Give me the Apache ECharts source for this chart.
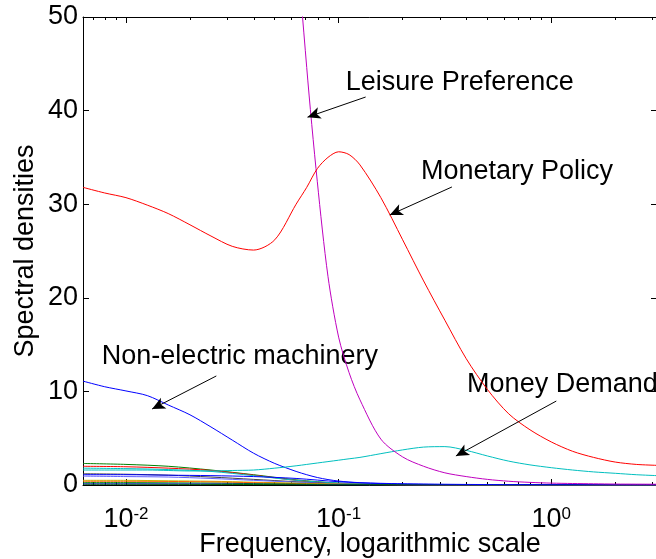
<!DOCTYPE html>
<html>
<head>
<meta charset="utf-8">
<script src="https://cdn.jsdelivr.net/npm/echarts@6/dist/echarts.min.js"></script>
<style>
  html, body { margin: 0; padding: 0; background: #fff; }
  #chart { width: 656px; height: 559px; }
</style>
</head>
<body>
<div id="chart"></div>
<script>
// Frequency grid (radians), log axis from 2*pi/1000 to pi
const freq = [0.00628, 0.00794, 0.01, 0.0126, 0.0158, 0.02, 0.0251, 0.0316, 0.0398, 0.0501,
  0.0631, 0.0708, 0.0794, 0.0891, 0.1, 0.112, 0.126, 0.158, 0.2, 0.251, 0.316, 0.398,
  0.501, 0.631, 0.794, 1.0, 1.26, 1.58, 2.0, 2.51, 3.1416];

const monetaryPolicy = [31.8, 31.2, 30.7, 29.9, 29.0, 27.8, 26.6, 25.5, 25.1, 26.2,
  30.0, 31.8, 33.8, 35.0, 35.6, 35.3, 34.2, 30.7, 26.2, 21.8, 17.6, 13.5,
  10.2, 7.6, 5.9, 4.6, 3.6, 2.95, 2.45, 2.2, 2.1];

const leisurePreference = [null, null, null, null, null, null, null, null, null, 120,
  60, 44.6, 32.4, 22.3, 15.8, 12.0, 9.1, 4.9, 3.0, 2.0, 1.3, 0.9,
  0.6, 0.4, 0.28, 0.2, 0.16, 0.13, 0.1, 0.09, 0.08];

const moneyDemand = [1.6, 1.6, 1.6, 1.6, 1.55, 1.5, 1.5, 1.55, 1.6, 1.8,
  2.05, 2.2, 2.35, 2.5, 2.65, 2.8, 2.95, 3.35, 3.75, 4.05, 4.1, 3.7,
  3.1, 2.55, 2.15, 1.85, 1.6, 1.4, 1.25, 1.1, 1.0];

const nonElectricMachinery = [11.1, 10.5, 10.05, 9.55, 8.55, 7.5, 6.2, 4.8, 3.4, 2.3,
  1.45, 1.1, 0.8, 0.58, 0.42, 0.32, 0.25, 0.18, 0.13, 0.1, 0.08, 0.06,
  0.05, 0.04, 0.04, 0.03, 0.03, 0.03, 0.02, 0.02, 0.02];

// Coarser grid for the many small sectoral spectra near zero
const freqCoarse = [0.00628, 0.01, 0.0158, 0.0251, 0.0398, 0.0631, 0.1, 0.158, 0.316, 1.0, 3.1416];
const smallGreen   = [2.3, 2.2, 2.0, 1.6, 1.1, 0.55, 0.2, 0.08, 0.03, 0.01, 0.01];
const smallRed     = [2.0, 1.95, 1.8, 1.55, 1.05, 0.5, 0.15, 0.05, 0.02, 0.01, 0.01];
const smallCyan    = [1.8, 1.75, 1.65, 1.45, 1.0, 0.5, 0.2, 0.07, 0.02, 0.01, 0.01];
const smallGray    = [1.2, 1.15, 1.05, 0.85, 0.6, 0.35, 0.12, 0.05, 0.02, 0.01, 0.01];
const smallBlue1   = [1.1, 1.1, 1.05, 1.0, 0.9, 0.7, 0.35, 0.15, 0.05, 0.02, 0.01];
const smallBlue2   = [0.95, 0.9, 0.85, 0.7, 0.5, 0.3, 0.12, 0.05, 0.02, 0.01, 0.01];
const smallYellow  = [0.5, 0.5, 0.45, 0.4, 0.3, 0.2, 0.1, 0.05, 0.02, 0.01, 0.01];
const smallRed2    = [0.4, 0.4, 0.38, 0.33, 0.25, 0.15, 0.07, 0.03, 0.02, 0.01, 0.01];
const smallGreen2  = [0.25, 0.25, 0.23, 0.2, 0.15, 0.1, 0.05, 0.03, 0.02, 0.01, 0.01];
const smallBlue3   = [0.12, 0.12, 0.11, 0.1, 0.08, 0.05, 0.03, 0.02, 0.01, 0.01, 0.01];
const smallGreen3  = [0.08, 0.08, 0.07, 0.06, 0.05, 0.04, 0.03, 0.03, 0.03, 0.03, 0.03];

// Axis ticks
const xMin = 0.00628, xMax = 3.1416;
const xMajorTicks = [0.01, 0.1, 1];
const xMinorTicks = [0.007, 0.008, 0.009, 0.02, 0.03, 0.04, 0.05, 0.06, 0.07, 0.08, 0.09,
  0.2, 0.3, 0.4, 0.5, 0.6, 0.7, 0.8, 0.9, 2, 3];
const yTicks = [0, 10, 20, 30, 40, 50];

// Annotations (data coordinates)
const annotationText = ['Leisure Preference', 'Monetary Policy', 'Non-electric machinery', 'Money Demand'];
const annotationTextPos = [[0.108, 42.95], [0.244, 33.44], [0.0077, 13.68], [0.402, 10.68]];
const arrowTail = [[0.134, 41.45], [0.341, 31.84], [0.0266, 11.65], [1.056, 8.97]];
const arrowHead = [[0.0714, 39.3], [0.174, 28.85], [0.01327, 8.12], [0.356, 3.10]];

const FONT = 'Liberation Sans, Arial, sans-serif';

function pairs(xs, ys) { return xs.map((x, i) => [x, ys[i]]); }

function lineSeries(name, xs, ys, color, smooth) {
  return {
    name, type: 'line', data: pairs(xs, ys), showSymbol: false, symbol: 'none',
    smooth: smooth || false,
    lineStyle: { width: 1, color }, itemStyle: { color },
    xAxisIndex: 0, yAxisIndex: 0, silent: true, clip: true, connectNulls: false
  };
}

const smallSeries = [
  ['g1', smallGreen, '#008000'], ['r1', smallRed, '#FF0000'], ['c1', smallCyan, '#00BFBF'],
  ['k1', smallGray, '#404040'], ['b1', smallBlue1, '#0000FF'], ['b2', smallBlue2, '#6060FF'],
  ['y1', smallYellow, '#BFBF00'], ['r2', smallRed2, '#FF6000'], ['g2', smallGreen2, '#008000'],
  ['b3', smallBlue3, '#0000FF'], ['g3', smallGreen3, '#006000']
].map(([n, d, c]) => lineSeries(n, freqCoarse, d, c, 0.3));

const series = smallSeries.concat([
  lineSeries('Non-electric machinery', freq, nonElectricMachinery, '#0000FF', 0.3),
  lineSeries('Money Demand', freq, moneyDemand, '#00BFBF', 0.3),
  lineSeries('Leisure Preference', freq, leisurePreference, '#BF00BF', 0.3),
  lineSeries('Monetary Policy', freq, monetaryPolicy, '#FF0000', 0.3),
  {
    name: 'arrows', type: 'line', data: [], xAxisIndex: 0, yAxisIndex: 0, silent: true,
    markLine: {
      silent: true, animation: false,
      symbol: ['none', 'arrow'], symbolSize: [9, 13],
      label: { show: false },
      lineStyle: { color: '#000', width: 1, type: 'solid' },
      emphasis: { disabled: true },
      data: arrowTail.map((t, i) => [{ coord: t }, { coord: arrowHead[i] }])
    }
  }
]);

const baseX = { type: 'log', logBase: 10, min: xMin, max: xMax, gridIndex: 0, splitLine: { show: false }, minorTick: { show: false } };

const chart = echarts.init(document.getElementById('chart'), null, { renderer: 'canvas' });
chart.setOption({
  animation: false,
  backgroundColor: '#fff',
  textStyle: { fontFamily: FONT },
  grid: { left: 83, top: 17, right: -1, bottom: 74, containLabel: false, outerBoundsMode: 'none' },
  xAxis: [
    Object.assign({}, baseX, {
      position: 'bottom',
      name: 'Frequency, logarithmic scale', nameLocation: 'middle', nameGap: 46, nameMoveOverlap: false,
      nameTextStyle: { fontSize: 27, color: '#000', fontFamily: FONT },
      axisLine: { show: true, lineStyle: { color: '#000', width: 1 } },
      axisTick: { show: true, inside: true, length: 6, customValues: xMajorTicks, lineStyle: { color: '#000' } },
      axisLabel: {
        show: true, margin: 21, customValues: xMajorTicks, color: '#000',
        formatter: function (v) {
          const e = Math.round(Math.log10(v));
          if (Math.abs(Math.log10(v) - e) > 1e-6) return '';
          return '{b|10}{e|' + e + '}';
        },
        rich: {
          b: { fontSize: 27, fontFamily: FONT, color: '#000', lineHeight: 27, padding: [10, 0, 0, 0], verticalAlign: 'bottom' },
          e: { fontSize: 17, fontFamily: FONT, color: '#000', lineHeight: 17, verticalAlign: 'top' }
        }
      }
    }),
    Object.assign({}, baseX, {
      position: 'bottom',
      axisLine: { show: false },
      axisTick: { show: true, inside: true, length: 3, customValues: xMinorTicks, lineStyle: { color: '#000' } },
      axisLabel: { show: false }
    }),
    Object.assign({}, baseX, {
      position: 'top',
      axisLine: { show: true, lineStyle: { color: '#000', width: 1 } },
      axisTick: { show: true, inside: true, length: 6, customValues: xMajorTicks, lineStyle: { color: '#000' } },
      axisLabel: { show: false }
    }),
    Object.assign({}, baseX, {
      position: 'top',
      axisLine: { show: false },
      axisTick: { show: true, inside: true, length: 3, customValues: xMinorTicks, lineStyle: { color: '#000' } },
      axisLabel: { show: false }
    })
  ],
  yAxis: [
    {
      type: 'value', min: 0, max: 50, interval: 10, position: 'left',
      name: 'Spectral densities', nameLocation: 'middle', nameGap: 44, nameRotate: 90, nameMoveOverlap: false,
      nameTextStyle: { fontSize: 27, color: '#000', fontFamily: FONT },
      axisLine: { show: true, lineStyle: { color: '#000', width: 1 } },
      axisTick: { show: true, inside: true, length: 6, customValues: yTicks, lineStyle: { color: '#000' } },
      axisLabel: { show: true, customValues: yTicks, margin: 5, fontSize: 27, color: '#000', fontFamily: FONT },
      splitLine: { show: false }
    },
    {
      type: 'value', min: 0, max: 50, interval: 10, position: 'right',
      axisLine: { show: true, lineStyle: { color: '#000', width: 1 } },
      axisTick: { show: true, inside: true, length: 6, customValues: yTicks, lineStyle: { color: '#000' } },
      axisLabel: { show: false },
      splitLine: { show: false }
    }
  ],
  series: series
});

// Text annotations placed through the chart's own coordinate conversion
const graphics = annotationText.map((t, i) => {
  const p = chart.convertToPixel({ xAxisIndex: 0, yAxisIndex: 0 }, annotationTextPos[i]);
  return {
    type: 'text', silent: true, x: p[0], y: p[1],
    style: { text: t, fontSize: 27, fontFamily: FONT, fill: '#000', align: 'left', verticalAlign: 'middle' }
  };
});
chart.setOption({ graphic: graphics });
</script>
</body>
</html>
